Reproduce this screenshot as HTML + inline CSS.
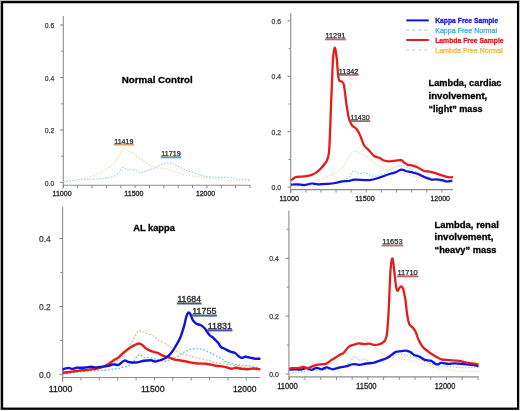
<!DOCTYPE html>
<html><head><meta charset="utf-8"><style>
html,body{margin:0;padding:0;background:#fff;}
body{width:520px;height:411px;overflow:hidden;}
svg{display:block;font-family:"Liberation Sans",sans-serif;will-change:transform;}
</style></head><body>
<svg width="520" height="411" viewBox="0 0 520 411">
<rect width="520" height="411" fill="#fff"/>
<path d="M63.3,16 V188.3" stroke="#8c8c8c" stroke-width="1.1" fill="none"/>
<path d="M63.3,185.2 H250.3" stroke="#8c8c8c" stroke-width="1.1" fill="none"/>
<path d="M60.099999999999994,25 H63.3" stroke="#8c8c8c" stroke-width="1.1"/>
<path d="M60.099999999999994,77.5 H63.3" stroke="#8c8c8c" stroke-width="1.1"/>
<path d="M60.099999999999994,130 H63.3" stroke="#8c8c8c" stroke-width="1.1"/>
<path d="M60.099999999999994,182.5 H63.3" stroke="#8c8c8c" stroke-width="1.1"/>
<path d="M61.099999999999994,51.25 H63.3" stroke="#8c8c8c" stroke-width="1"/>
<path d="M61.099999999999994,103.75 H63.3" stroke="#8c8c8c" stroke-width="1"/>
<path d="M61.099999999999994,156.25 H63.3" stroke="#8c8c8c" stroke-width="1"/>
<path d="M63.3,185.2 V188.2" stroke="#8c8c8c" stroke-width="1"/>
<path d="M77.66,185.2 V188.2" stroke="#8c8c8c" stroke-width="1"/>
<path d="M92.02,185.2 V188.2" stroke="#8c8c8c" stroke-width="1"/>
<path d="M106.38,185.2 V188.2" stroke="#8c8c8c" stroke-width="1"/>
<path d="M120.74,185.2 V188.2" stroke="#8c8c8c" stroke-width="1"/>
<path d="M135.1,185.2 V188.2" stroke="#8c8c8c" stroke-width="1"/>
<path d="M149.45999999999998,185.2 V188.2" stroke="#8c8c8c" stroke-width="1"/>
<path d="M163.82,185.2 V188.2" stroke="#8c8c8c" stroke-width="1"/>
<path d="M178.18,185.2 V188.2" stroke="#8c8c8c" stroke-width="1"/>
<path d="M192.54000000000002,185.2 V188.2" stroke="#8c8c8c" stroke-width="1"/>
<path d="M206.89999999999998,185.2 V188.2" stroke="#8c8c8c" stroke-width="1"/>
<path d="M221.26,185.2 V188.2" stroke="#8c8c8c" stroke-width="1"/>
<path d="M235.62,185.2 V188.2" stroke="#8c8c8c" stroke-width="1"/>
<path d="M249.98000000000002,185.2 V188.2" stroke="#8c8c8c" stroke-width="1"/>
<text x="54.3" y="28.08" text-anchor="end" font-size="8.0" fill="#3a3a3a" stroke="#3a3a3a" stroke-width="0.25" textLength="9.5" lengthAdjust="spacingAndGlyphs">0.6</text>
<text x="54.3" y="80.58" text-anchor="end" font-size="8.0" fill="#3a3a3a" stroke="#3a3a3a" stroke-width="0.25" textLength="9.5" lengthAdjust="spacingAndGlyphs">0.4</text>
<text x="54.3" y="133.08" text-anchor="end" font-size="8.0" fill="#3a3a3a" stroke="#3a3a3a" stroke-width="0.25" textLength="9.5" lengthAdjust="spacingAndGlyphs">0.2</text>
<text x="54.3" y="185.58" text-anchor="end" font-size="8.0" fill="#3a3a3a" stroke="#3a3a3a" stroke-width="0.25" textLength="9.5" lengthAdjust="spacingAndGlyphs">0.0</text>
<text x="52.50" y="196.0" font-size="7.8" fill="#202020" stroke="#202020" stroke-width="0.3" textLength="19.2" lengthAdjust="spacingAndGlyphs">11000</text>
<text x="124.30" y="196.0" font-size="7.8" fill="#202020" stroke="#202020" stroke-width="0.3" textLength="19.2" lengthAdjust="spacingAndGlyphs">11500</text>
<text x="195.90" y="196.0" font-size="7.8" fill="#202020" stroke="#202020" stroke-width="0.3" textLength="19.2" lengthAdjust="spacingAndGlyphs">12000</text>
<path d="M63.30,181.80 C65.32,181.55 72.12,180.85 75.40,180.30 C78.68,179.75 80.43,179.12 83.00,178.50 C85.57,177.88 87.97,177.52 90.80,176.60 C93.63,175.68 97.43,174.23 100.00,173.00 C102.57,171.77 104.02,170.60 106.20,169.20 C108.38,167.80 111.05,166.65 113.10,164.60 C115.15,162.55 116.83,159.47 118.50,156.90 C120.17,154.33 121.57,150.22 123.10,149.20 C124.63,148.18 125.92,150.03 127.70,150.80 C129.48,151.57 132.38,152.90 133.80,153.80 C135.22,154.70 134.78,155.17 136.20,156.20 C137.62,157.23 140.00,158.47 142.30,160.00 C144.60,161.53 147.68,164.12 150.00,165.40 C152.32,166.68 153.63,167.18 156.20,167.70 C158.77,168.22 162.33,167.87 165.40,168.50 C168.47,169.13 171.53,170.48 174.60,171.50 C177.67,172.52 180.47,173.82 183.80,174.60 C187.13,175.38 190.82,175.65 194.60,176.20 C198.38,176.75 202.60,177.43 206.50,177.90 C210.40,178.37 214.15,178.57 218.00,179.00 C221.85,179.43 226.52,180.20 229.60,180.50 C232.68,180.80 233.43,180.70 236.50,180.80 C239.57,180.90 245.75,180.92 248.00,181.10 C250.25,181.28 249.67,181.77 250.00,181.90" stroke="#f5d7aa" stroke-width="1.1" fill="none" stroke-dasharray="1.5 1.5"/>
<path d="M63.30,181.80 C65.25,181.53 70.17,180.63 75.00,180.20 C79.83,179.77 88.13,179.43 92.30,179.20 C96.47,178.97 97.43,179.05 100.00,178.80 C102.57,178.55 105.13,178.22 107.70,177.70 C110.27,177.18 113.48,176.60 115.40,175.70 C117.32,174.80 117.97,173.68 119.20,172.30 C120.43,170.92 121.38,167.78 122.80,167.40 C124.22,167.02 126.12,169.65 127.70,170.00 C129.28,170.35 130.88,169.37 132.30,169.50 C133.72,169.63 134.67,170.28 136.20,170.80 C137.73,171.32 139.72,172.60 141.50,172.60 C143.28,172.60 144.98,171.48 146.90,170.80 C148.82,170.12 150.95,169.40 153.00,168.50 C155.05,167.60 157.13,166.30 159.20,165.40 C161.27,164.50 163.47,163.48 165.40,163.10 C167.33,162.72 169.00,162.72 170.80,163.10 C172.60,163.48 174.03,164.38 176.20,165.40 C178.37,166.42 181.25,168.05 183.80,169.20 C186.35,170.35 188.67,171.32 191.50,172.30 C194.33,173.28 198.68,174.47 200.80,175.10 C202.92,175.73 201.70,175.73 204.20,176.10 C206.70,176.47 211.18,177.07 215.80,177.30 C220.42,177.53 228.45,177.27 231.90,177.50 C235.35,177.73 233.82,178.35 236.50,178.70 C239.18,179.05 245.75,179.30 248.00,179.60 C250.25,179.90 249.67,180.35 250.00,180.50" stroke="#90d4e4" stroke-width="1.1" fill="none" stroke-dasharray="1.5 1.5"/>
<text x="114.30" y="143.60" font-size="7.2" fill="#2a2a2a" stroke="#2a2a2a" stroke-width="0.25" textLength="19.10" lengthAdjust="spacingAndGlyphs">11419</text>
<path d="M113.80,144.20 H133.90" stroke="#505050" stroke-width="0.7"/>
<path d="M113.80,145.00 H133.90" stroke="#f0a062" stroke-width="1.2"/>
<text x="161.30" y="156.30" font-size="7.2" fill="#2a2a2a" stroke="#2a2a2a" stroke-width="0.25" textLength="19.40" lengthAdjust="spacingAndGlyphs">11719</text>
<path d="M160.80,156.90 H181.20" stroke="#505050" stroke-width="0.7"/>
<path d="M160.80,157.70 H181.20" stroke="#3aa6c8" stroke-width="1.2"/>
<text x="121.8" y="82.6" font-size="9.8" font-weight="bold" fill="#000" stroke="#000" stroke-width="0.3" textLength="70.9" lengthAdjust="spacingAndGlyphs">Normal Control</text>
<path d="M290.7,13.2 V193" stroke="#8c8c8c" stroke-width="1.1" fill="none"/>
<path d="M290.7,189.6 H453" stroke="#8c8c8c" stroke-width="1.1" fill="none"/>
<path d="M287.5,20.85 H290.7" stroke="#8c8c8c" stroke-width="1.1"/>
<path d="M287.5,76.3 H290.7" stroke="#8c8c8c" stroke-width="1.1"/>
<path d="M287.5,131.7 H290.7" stroke="#8c8c8c" stroke-width="1.1"/>
<path d="M287.5,187.2 H290.7" stroke="#8c8c8c" stroke-width="1.1"/>
<path d="M288.5,48.6 H290.7" stroke="#8c8c8c" stroke-width="1"/>
<path d="M288.5,104 H290.7" stroke="#8c8c8c" stroke-width="1"/>
<path d="M288.5,159.5 H290.7" stroke="#8c8c8c" stroke-width="1"/>
<path d="M290.7,189.6 V192.6" stroke="#8c8c8c" stroke-width="1"/>
<path d="M305.82,189.6 V192.6" stroke="#8c8c8c" stroke-width="1"/>
<path d="M320.94,189.6 V192.6" stroke="#8c8c8c" stroke-width="1"/>
<path d="M336.06,189.6 V192.6" stroke="#8c8c8c" stroke-width="1"/>
<path d="M351.18,189.6 V192.6" stroke="#8c8c8c" stroke-width="1"/>
<path d="M366.29999999999995,189.6 V192.6" stroke="#8c8c8c" stroke-width="1"/>
<path d="M381.41999999999996,189.6 V192.6" stroke="#8c8c8c" stroke-width="1"/>
<path d="M396.53999999999996,189.6 V192.6" stroke="#8c8c8c" stroke-width="1"/>
<path d="M411.65999999999997,189.6 V192.6" stroke="#8c8c8c" stroke-width="1"/>
<path d="M426.78,189.6 V192.6" stroke="#8c8c8c" stroke-width="1"/>
<path d="M441.9,189.6 V192.6" stroke="#8c8c8c" stroke-width="1"/>
<text x="281.1" y="23.88" text-anchor="end" font-size="8.0" fill="#3a3a3a" stroke="#3a3a3a" stroke-width="0.25" textLength="9.5" lengthAdjust="spacingAndGlyphs">0.6</text>
<text x="281.1" y="79.28" text-anchor="end" font-size="8.0" fill="#3a3a3a" stroke="#3a3a3a" stroke-width="0.25" textLength="9.5" lengthAdjust="spacingAndGlyphs">0.4</text>
<text x="281.1" y="134.68" text-anchor="end" font-size="8.0" fill="#3a3a3a" stroke="#3a3a3a" stroke-width="0.25" textLength="9.5" lengthAdjust="spacingAndGlyphs">0.2</text>
<text x="281.1" y="190.18" text-anchor="end" font-size="8.0" fill="#3a3a3a" stroke="#3a3a3a" stroke-width="0.25" textLength="9.5" lengthAdjust="spacingAndGlyphs">0.0</text>
<text x="279.45" y="201.0" font-size="8.0" fill="#202020" stroke="#202020" stroke-width="0.3" textLength="19.5" lengthAdjust="spacingAndGlyphs">11000</text>
<text x="355.35" y="201.0" font-size="8.0" fill="#202020" stroke="#202020" stroke-width="0.3" textLength="19.5" lengthAdjust="spacingAndGlyphs">11500</text>
<text x="430.45" y="201.0" font-size="8.0" fill="#202020" stroke="#202020" stroke-width="0.3" textLength="19.5" lengthAdjust="spacingAndGlyphs">12000</text>
<path d="M291.00,185.60 C292.83,185.37 298.28,184.77 302.00,184.20 C305.72,183.63 309.57,183.32 313.30,182.20 C317.03,181.08 320.97,178.95 324.40,177.50 C327.83,176.05 331.00,174.95 333.90,173.50 C336.80,172.05 340.17,170.05 341.80,168.80 C343.43,167.55 342.53,167.88 343.70,166.00 C344.87,164.12 347.08,159.92 348.80,157.50 C350.52,155.08 352.28,152.22 354.00,151.50 C355.72,150.78 357.12,152.48 359.10,153.20 C361.08,153.92 363.63,154.52 365.90,155.80 C368.17,157.08 370.43,159.20 372.70,160.90 C374.97,162.60 377.23,164.58 379.50,166.00 C381.77,167.42 384.27,168.57 386.30,169.40 C388.33,170.23 389.22,170.40 391.70,171.00 C394.18,171.60 397.83,172.22 401.20,173.00 C404.57,173.78 408.32,174.80 411.90,175.70 C415.48,176.60 419.10,177.62 422.70,178.40 C426.30,179.18 429.68,179.73 433.50,180.40 C437.32,181.07 442.35,182.00 445.60,182.40 C448.85,182.80 451.77,182.73 453.00,182.80" stroke="#f5d7aa" stroke-width="1.1" fill="none" stroke-dasharray="1.6 1.5"/>
<path d="M291.00,186.20 C294.17,186.03 304.33,185.58 310.00,185.20 C315.67,184.82 319.67,184.68 325.00,183.90 C330.33,183.12 337.88,181.78 342.00,180.50 C346.12,179.22 347.77,177.82 349.70,176.20 C351.63,174.58 352.03,171.22 353.60,170.80 C355.17,170.38 357.33,173.37 359.10,173.70 C360.87,174.03 361.65,172.38 364.20,172.80 C366.75,173.22 371.28,175.97 374.40,176.20 C377.52,176.43 380.35,175.33 382.90,174.20 C385.45,173.07 388.00,170.50 389.70,169.40 C391.40,168.30 391.63,168.17 393.10,167.60 C394.57,167.03 396.72,166.30 398.50,166.00 C400.28,165.70 402.02,165.42 403.80,165.80 C405.58,166.18 407.17,167.33 409.20,168.30 C411.23,169.27 413.30,170.27 416.00,171.60 C418.70,172.93 422.05,175.07 425.40,176.30 C428.75,177.53 432.73,178.22 436.10,179.00 C439.47,179.78 442.78,180.67 445.60,181.00 C448.42,181.33 451.77,181.00 453.00,181.00" stroke="#90d4e4" stroke-width="1.1" fill="none" stroke-dasharray="1.6 1.5"/>
<path d="M291.00,184.60 C292.08,184.55 295.23,184.22 297.50,184.30 C299.77,184.38 302.23,185.23 304.60,185.10 C306.97,184.97 309.47,183.63 311.70,183.50 C313.93,183.37 315.35,184.25 318.00,184.30 C320.65,184.35 324.68,184.02 327.60,183.80 C330.52,183.58 333.00,183.40 335.50,183.00 C338.00,182.60 340.38,181.73 342.60,181.40 C344.82,181.07 346.77,181.30 348.80,181.00 C350.83,180.70 351.38,179.75 354.80,179.60 C358.22,179.45 365.18,180.43 369.30,180.10 C373.42,179.77 376.38,178.53 379.50,177.60 C382.62,176.67 385.97,175.20 388.00,174.50 C390.03,173.80 390.40,173.77 391.70,173.40 C393.00,173.03 394.22,172.93 395.80,172.30 C397.38,171.67 399.42,169.78 401.20,169.60 C402.98,169.42 404.93,170.82 406.50,171.20 C408.07,171.58 409.25,171.60 410.60,171.90 C411.95,172.20 413.27,172.60 414.60,173.00 C415.93,173.40 416.80,173.57 418.60,174.30 C420.40,175.03 423.15,176.50 425.40,177.40 C427.65,178.30 430.32,179.38 432.10,179.70 C433.88,180.02 434.30,179.18 436.10,179.30 C437.90,179.42 441.10,180.03 442.90,180.40 C444.70,180.77 445.33,181.47 446.90,181.50 C448.47,181.53 451.40,180.75 452.30,180.60" stroke="#1212e0" stroke-width="2.2" fill="none" stroke-linejoin="round"/>
<path d="M291.00,180.30 C291.28,180.10 291.88,179.65 292.70,179.10 C293.52,178.55 294.57,177.40 295.90,177.00 C297.23,176.60 298.98,176.83 300.70,176.70 C302.42,176.57 304.37,176.52 306.20,176.20 C308.03,175.88 309.98,175.43 311.70,174.80 C313.42,174.17 314.92,173.53 316.50,172.40 C318.08,171.27 319.48,169.92 321.20,168.00 C322.92,166.08 325.53,163.28 326.80,160.90 C328.07,158.52 328.32,157.18 328.80,153.70 C329.28,150.22 329.42,145.57 329.70,140.00 C329.98,134.43 330.17,128.85 330.50,120.30 C330.83,111.75 331.28,98.83 331.70,88.70 C332.12,78.57 332.50,66.32 333.00,59.50 C333.50,52.68 334.10,48.22 334.70,47.80 C335.30,47.38 336.08,53.03 336.60,57.00 C337.12,60.97 337.40,67.75 337.80,71.60 C338.20,75.45 338.38,78.47 339.00,80.10 C339.62,81.73 340.68,80.58 341.50,81.40 C342.32,82.22 343.10,81.35 343.90,85.00 C344.70,88.65 345.48,97.82 346.30,103.30 C347.12,108.78 347.98,114.45 348.80,117.90 C349.62,121.35 350.48,122.57 351.20,124.00 C351.92,125.43 352.30,125.75 353.10,126.50 C353.90,127.25 355.10,127.58 356.00,128.50 C356.90,129.42 357.70,130.58 358.50,132.00 C359.30,133.42 359.85,134.75 360.80,137.00 C361.75,139.25 362.78,143.22 364.20,145.50 C365.62,147.78 367.60,148.90 369.30,150.70 C371.00,152.50 372.70,155.12 374.40,156.30 C376.10,157.48 377.93,157.10 379.50,157.80 C381.07,158.50 382.10,159.90 383.80,160.50 C385.50,161.10 387.70,161.38 389.70,161.40 C391.70,161.42 393.88,160.80 395.80,160.60 C397.72,160.40 399.87,159.93 401.20,160.20 C402.53,160.47 402.68,161.42 403.80,162.20 C404.92,162.98 406.55,164.38 407.90,164.90 C409.25,165.42 410.33,164.90 411.90,165.30 C413.47,165.70 415.28,166.35 417.30,167.30 C419.32,168.25 422.20,170.32 424.00,171.00 C425.80,171.68 426.08,171.00 428.10,171.40 C430.12,171.80 433.63,172.68 436.10,173.40 C438.57,174.12 440.65,175.03 442.90,175.70 C445.15,176.37 447.92,177.18 449.60,177.40 C451.28,177.62 452.43,177.07 453.00,177.00" stroke="#e41c1c" stroke-width="2.3" fill="none" stroke-linejoin="round"/>
<text x="325.50" y="38.30" font-size="7.2" fill="#2a2a2a" stroke="#2a2a2a" stroke-width="0.25" textLength="19.80" lengthAdjust="spacingAndGlyphs">11291</text>
<path d="M325.00,38.90 H345.80" stroke="#505050" stroke-width="0.7"/>
<path d="M325.00,39.70 H345.80" stroke="#d8505a" stroke-width="1.2"/>
<text x="338.80" y="73.80" font-size="7.2" fill="#2a2a2a" stroke="#2a2a2a" stroke-width="0.25" textLength="19.40" lengthAdjust="spacingAndGlyphs">11342</text>
<path d="M338.30,74.40 H358.70" stroke="#505050" stroke-width="0.7"/>
<path d="M338.30,75.20 H358.70" stroke="#d8505a" stroke-width="1.2"/>
<text x="350.50" y="120.10" font-size="7.2" fill="#2a2a2a" stroke="#2a2a2a" stroke-width="0.25" textLength="19.20" lengthAdjust="spacingAndGlyphs">11430</text>
<path d="M350.00,120.70 H370.20" stroke="#505050" stroke-width="0.7"/>
<path d="M350.00,121.50 H370.20" stroke="#d8505a" stroke-width="1.2"/>
<path d="M406.3,20.4 H428.8" stroke="#1212e0" stroke-width="2"/>
<path d="M406.3,30.2 H428.8" stroke="#9fd6e2" stroke-width="1.3" stroke-dasharray="3 3"/>
<path d="M406.3,40 H428.8" stroke="#e41c1c" stroke-width="2"/>
<path d="M406.3,49.8 H428.8" stroke="#f4ccaa" stroke-width="1.3" stroke-dasharray="3 3"/>
<text x="435.2" y="23.4" font-size="8" font-weight="bold" fill="#1414d4" stroke="#1414d4" stroke-width="0.3" textLength="62.8" lengthAdjust="spacingAndGlyphs">Kappa Free Sample</text>
<text x="435.2" y="33.2" font-size="8" fill="#2ea8e4" stroke="#2ea8e4" stroke-width="0.25" textLength="61.8" lengthAdjust="spacingAndGlyphs">Kappa Free Normal</text>
<text x="435.2" y="43" font-size="8" font-weight="bold" fill="#e41414" stroke="#e41414" stroke-width="0.3" textLength="68.4" lengthAdjust="spacingAndGlyphs">Lambda Free Sample</text>
<text x="435.2" y="52.8" font-size="8" fill="#f2b230" stroke="#f2b230" stroke-width="0.25" textLength="67.4" lengthAdjust="spacingAndGlyphs">Lambda Free Normal</text>
<text font-size="9.2" font-weight="bold" fill="#000" stroke="#000" stroke-width="0.3"><tspan x="428.5" y="85.9" textLength="73" lengthAdjust="spacingAndGlyphs">Lambda, cardiac</tspan><tspan x="428.5" y="98.8" textLength="58.8" lengthAdjust="spacingAndGlyphs">involvement,</tspan><tspan x="428.5" y="111.5" textLength="54" lengthAdjust="spacingAndGlyphs">“light” mass</tspan></text>
<path d="M62.6,206.7 V381.7" stroke="#8c8c8c" stroke-width="1.1" fill="none"/>
<path d="M62.6,377.5 H260.2" stroke="#8c8c8c" stroke-width="1.1" fill="none"/>
<path d="M59.4,238.5 H62.6" stroke="#8c8c8c" stroke-width="1.1"/>
<path d="M59.4,306.5 H62.6" stroke="#8c8c8c" stroke-width="1.1"/>
<path d="M59.4,374.6 H62.6" stroke="#8c8c8c" stroke-width="1.1"/>
<path d="M60.4,272.5 H62.6" stroke="#8c8c8c" stroke-width="1"/>
<path d="M60.4,340.5 H62.6" stroke="#8c8c8c" stroke-width="1"/>
<path d="M62.6,377.5 V380.5" stroke="#8c8c8c" stroke-width="1"/>
<path d="M80.97,377.5 V380.5" stroke="#8c8c8c" stroke-width="1"/>
<path d="M99.34,377.5 V380.5" stroke="#8c8c8c" stroke-width="1"/>
<path d="M117.71000000000001,377.5 V380.5" stroke="#8c8c8c" stroke-width="1"/>
<path d="M136.08,377.5 V380.5" stroke="#8c8c8c" stroke-width="1"/>
<path d="M154.45000000000002,377.5 V380.5" stroke="#8c8c8c" stroke-width="1"/>
<path d="M172.82,377.5 V380.5" stroke="#8c8c8c" stroke-width="1"/>
<path d="M191.19,377.5 V380.5" stroke="#8c8c8c" stroke-width="1"/>
<path d="M209.56,377.5 V380.5" stroke="#8c8c8c" stroke-width="1"/>
<path d="M227.93,377.5 V380.5" stroke="#8c8c8c" stroke-width="1"/>
<path d="M246.3,377.5 V380.5" stroke="#8c8c8c" stroke-width="1"/>
<text x="50.8" y="242.04" text-anchor="end" font-size="9.0" fill="#3a3a3a" stroke="#3a3a3a" stroke-width="0.25" textLength="11.8" lengthAdjust="spacingAndGlyphs">0.4</text>
<text x="50.8" y="310.04" text-anchor="end" font-size="9.0" fill="#3a3a3a" stroke="#3a3a3a" stroke-width="0.25" textLength="11.8" lengthAdjust="spacingAndGlyphs">0.2</text>
<text x="50.8" y="378.14" text-anchor="end" font-size="9.0" fill="#3a3a3a" stroke="#3a3a3a" stroke-width="0.25" textLength="11.8" lengthAdjust="spacingAndGlyphs">0.0</text>
<text x="48.70" y="391.7" font-size="9.2" fill="#202020" stroke="#202020" stroke-width="0.3" textLength="23.6" lengthAdjust="spacingAndGlyphs">11000</text>
<text x="140.90" y="391.7" font-size="9.2" fill="#202020" stroke="#202020" stroke-width="0.3" textLength="23.6" lengthAdjust="spacingAndGlyphs">11500</text>
<text x="232.90" y="391.7" font-size="9.2" fill="#202020" stroke="#202020" stroke-width="0.3" textLength="23.6" lengthAdjust="spacingAndGlyphs">12000</text>
<path d="M62.60,373.50 C65.50,373.17 73.77,372.33 80.00,371.50 C86.23,370.67 94.17,370.08 100.00,368.50 C105.83,366.92 111.00,364.42 115.00,362.00 C119.00,359.58 121.57,356.57 124.00,354.00 C126.43,351.43 127.97,349.10 129.60,346.60 C131.23,344.10 132.52,341.42 133.80,339.00 C135.08,336.58 136.30,333.47 137.30,332.10 C138.30,330.73 138.38,330.65 139.80,330.80 C141.22,330.95 143.67,332.22 145.80,333.00 C147.93,333.78 150.33,334.22 152.60,335.50 C154.87,336.78 157.13,339.27 159.40,340.70 C161.67,342.13 163.93,342.68 166.20,344.10 C168.47,345.52 170.85,347.73 173.00,349.20 C175.15,350.67 176.57,351.83 179.10,352.90 C181.63,353.97 185.15,354.75 188.20,355.60 C191.25,356.45 194.35,357.23 197.40,358.00 C200.45,358.77 203.47,359.43 206.50,360.20 C209.53,360.97 211.68,361.85 215.60,362.60 C219.52,363.35 225.10,363.88 230.00,364.70 C234.90,365.52 240.00,366.82 245.00,367.50 C250.00,368.18 257.50,368.58 260.00,368.80" stroke="#f2bd80" stroke-width="1.3" fill="none" stroke-dasharray="1.8 1.7"/>
<path d="M62.60,374.70 C64.60,374.33 70.17,373.12 74.60,372.50 C79.03,371.88 84.33,371.37 89.20,371.00 C94.07,370.63 99.43,370.65 103.80,370.30 C108.17,369.95 112.25,369.38 115.40,368.90 C118.55,368.42 120.20,368.08 122.70,367.40 C125.20,366.72 128.27,366.28 130.40,364.80 C132.53,363.32 134.02,360.20 135.50,358.50 C136.98,356.80 137.87,354.78 139.30,354.60 C140.73,354.42 142.17,356.88 144.10,357.40 C146.03,357.92 148.63,357.37 150.90,357.70 C153.17,358.03 155.43,358.83 157.70,359.40 C159.97,359.97 162.23,361.10 164.50,361.10 C166.77,361.10 169.17,360.17 171.30,359.40 C173.43,358.63 175.08,357.73 177.30,356.50 C179.52,355.27 182.17,353.27 184.60,352.00 C187.03,350.73 189.32,349.42 191.90,348.90 C194.48,348.38 197.67,348.53 200.10,348.90 C202.53,349.27 204.22,350.13 206.50,351.10 C208.78,352.07 211.37,353.48 213.80,354.70 C216.23,355.92 219.08,357.23 221.10,358.40 C223.12,359.57 223.27,360.63 225.90,361.70 C228.53,362.77 233.25,364.10 236.90,364.80 C240.55,365.50 244.15,365.42 247.80,365.90 C251.45,366.38 256.97,367.40 258.80,367.70" stroke="#62c8e2" stroke-width="1.3" fill="none" stroke-dasharray="1.8 1.7"/>
<path d="M62.60,372.80 C63.38,372.70 65.30,372.45 67.30,372.20 C69.30,371.95 72.17,371.62 74.60,371.30 C77.03,370.98 79.47,370.58 81.90,370.30 C84.33,370.02 86.77,369.88 89.20,369.60 C91.63,369.32 94.32,369.03 96.50,368.60 C98.68,368.17 100.37,367.73 102.30,367.00 C104.23,366.27 106.15,365.35 108.10,364.20 C110.05,363.05 112.30,361.20 114.00,360.10 C115.70,359.00 116.85,358.73 118.30,357.60 C119.75,356.47 121.23,354.58 122.70,353.30 C124.17,352.02 125.82,350.87 127.10,349.90 C128.38,348.93 129.00,348.38 130.40,347.50 C131.80,346.62 133.93,345.25 135.50,344.60 C137.07,343.95 138.52,343.40 139.80,343.60 C141.08,343.80 142.07,344.93 143.20,345.80 C144.33,346.67 145.03,347.82 146.60,348.80 C148.17,349.78 150.75,351.02 152.60,351.70 C154.45,352.38 156.00,352.25 157.70,352.90 C159.40,353.55 160.82,354.80 162.80,355.60 C164.78,356.40 167.62,357.02 169.60,357.70 C171.58,358.38 173.12,359.28 174.70,359.70 C176.28,360.12 176.85,359.82 179.10,360.20 C181.35,360.58 185.15,361.45 188.20,362.00 C191.25,362.55 194.35,363.20 197.40,363.50 C200.45,363.80 203.47,363.43 206.50,363.80 C209.53,364.17 213.27,365.32 215.60,365.70 C217.93,366.08 218.78,365.85 220.50,366.10 C222.22,366.35 224.08,366.75 225.90,367.20 C227.72,367.65 229.75,368.72 231.40,368.80 C233.05,368.88 234.15,367.70 235.80,367.70 C237.45,367.70 239.30,368.55 241.30,368.80 C243.30,369.05 245.80,369.25 247.80,369.20 C249.80,369.15 251.20,368.47 253.30,368.50 C255.40,368.53 259.22,369.25 260.40,369.40" stroke="#e41c1c" stroke-width="2.4" fill="none" stroke-linejoin="round"/>
<path d="M62.60,369.60 C63.13,369.40 64.65,368.65 65.80,368.40 C66.95,368.15 68.40,368.02 69.50,368.10 C70.60,368.18 71.18,368.97 72.40,368.90 C73.62,368.83 75.22,367.88 76.80,367.70 C78.38,367.52 80.33,367.85 81.90,367.80 C83.47,367.75 84.62,367.58 86.20,367.40 C87.78,367.22 89.82,366.70 91.40,366.70 C92.98,366.70 94.25,367.35 95.70,367.40 C97.15,367.45 98.52,367.17 100.10,367.00 C101.68,366.83 103.87,366.58 105.20,366.40 C106.53,366.22 106.88,366.22 108.10,365.90 C109.32,365.58 111.33,364.73 112.50,364.50 C113.67,364.27 114.10,364.45 115.10,364.50 C116.10,364.55 116.93,365.45 118.50,364.80 C120.07,364.15 122.80,361.07 124.50,360.60 C126.20,360.13 126.87,361.68 128.70,362.00 C130.53,362.32 132.93,362.70 135.50,362.50 C138.07,362.30 141.53,361.18 144.10,360.80 C146.67,360.42 148.92,360.10 150.90,360.20 C152.88,360.30 153.73,361.68 156.00,361.40 C158.27,361.12 162.37,359.47 164.50,358.50 C166.63,357.53 167.38,356.93 168.80,355.60 C170.22,354.27 171.73,352.28 173.00,350.50 C174.27,348.72 175.23,346.93 176.40,344.90 C177.57,342.87 178.78,341.22 180.00,338.30 C181.22,335.38 182.63,331.05 183.70,327.40 C184.77,323.75 185.65,318.83 186.40,316.40 C187.15,313.97 187.58,313.25 188.20,312.80 C188.82,312.35 189.33,312.48 190.10,313.70 C190.87,314.92 191.75,318.43 192.80,320.10 C193.85,321.77 195.03,322.85 196.40,323.70 C197.77,324.55 199.62,324.43 201.00,325.20 C202.38,325.97 203.33,326.72 204.70,328.30 C206.07,329.88 207.68,333.03 209.20,334.70 C210.72,336.37 212.28,336.90 213.80,338.30 C215.32,339.70 217.10,341.65 218.30,343.10 C219.50,344.55 219.92,346.05 221.00,347.00 C222.08,347.95 223.25,348.02 224.80,348.80 C226.35,349.58 228.65,351.03 230.30,351.70 C231.95,352.37 233.42,352.13 234.70,352.80 C235.98,353.47 236.90,354.85 238.00,355.70 C239.10,356.55 240.03,357.72 241.30,357.90 C242.57,358.08 244.15,356.85 245.60,356.80 C247.05,356.75 248.35,357.28 250.00,357.60 C251.65,357.92 253.77,358.52 255.50,358.70 C257.23,358.88 259.58,358.70 260.40,358.70" stroke="#1212e0" stroke-width="2.4" fill="none" stroke-linejoin="round"/>
<text x="177.40" y="302.20" font-size="8.6" fill="#2a2a2a" stroke="#2a2a2a" stroke-width="0.35" textLength="23.60" lengthAdjust="spacingAndGlyphs">11684</text>
<path d="M176.90,302.80 H201.50" stroke="#505050" stroke-width="0.7"/>
<path d="M176.90,303.75 H201.50" stroke="#4050c4" stroke-width="1.5"/>
<text x="192.20" y="314.30" font-size="8.6" fill="#2a2a2a" stroke="#2a2a2a" stroke-width="0.35" textLength="24.20" lengthAdjust="spacingAndGlyphs">11755</text>
<path d="M191.70,314.90 H216.90" stroke="#505050" stroke-width="0.7"/>
<path d="M191.70,315.85 H216.90" stroke="#4050c4" stroke-width="1.5"/>
<text x="207.70" y="329.10" font-size="8.6" fill="#2a2a2a" stroke="#2a2a2a" stroke-width="0.35" textLength="24.20" lengthAdjust="spacingAndGlyphs">11831</text>
<path d="M207.20,329.70 H232.40" stroke="#505050" stroke-width="0.7"/>
<path d="M207.20,330.65 H232.40" stroke="#4050c4" stroke-width="1.5"/>
<text x="133.2" y="231.2" font-size="9" font-weight="bold" fill="#000" stroke="#000" stroke-width="0.3" textLength="41.7" lengthAdjust="spacingAndGlyphs">AL kappa</text>
<path d="M288.9,210.5 V380.4" stroke="#8c8c8c" stroke-width="1.1" fill="none"/>
<path d="M288.9,376.9 H478.6" stroke="#8c8c8c" stroke-width="1.1" fill="none"/>
<path d="M285.7,258.3 H288.9" stroke="#8c8c8c" stroke-width="1.1"/>
<path d="M285.7,316.1 H288.9" stroke="#8c8c8c" stroke-width="1.1"/>
<path d="M285.7,374 H288.9" stroke="#8c8c8c" stroke-width="1.1"/>
<path d="M286.7,229.4 H288.9" stroke="#8c8c8c" stroke-width="1"/>
<path d="M286.7,287.2 H288.9" stroke="#8c8c8c" stroke-width="1"/>
<path d="M286.7,345 H288.9" stroke="#8c8c8c" stroke-width="1"/>
<path d="M289.3,376.9 V379.9" stroke="#8c8c8c" stroke-width="1"/>
<path d="M305.02000000000004,376.9 V379.9" stroke="#8c8c8c" stroke-width="1"/>
<path d="M320.74,376.9 V379.9" stroke="#8c8c8c" stroke-width="1"/>
<path d="M336.46000000000004,376.9 V379.9" stroke="#8c8c8c" stroke-width="1"/>
<path d="M352.18,376.9 V379.9" stroke="#8c8c8c" stroke-width="1"/>
<path d="M367.90000000000003,376.9 V379.9" stroke="#8c8c8c" stroke-width="1"/>
<path d="M383.62,376.9 V379.9" stroke="#8c8c8c" stroke-width="1"/>
<path d="M399.34000000000003,376.9 V379.9" stroke="#8c8c8c" stroke-width="1"/>
<path d="M415.06,376.9 V379.9" stroke="#8c8c8c" stroke-width="1"/>
<path d="M430.78000000000003,376.9 V379.9" stroke="#8c8c8c" stroke-width="1"/>
<path d="M446.5,376.9 V379.9" stroke="#8c8c8c" stroke-width="1"/>
<path d="M462.22,376.9 V379.9" stroke="#8c8c8c" stroke-width="1"/>
<path d="M477.94000000000005,376.9 V379.9" stroke="#8c8c8c" stroke-width="1"/>
<text x="278.8" y="261.28" text-anchor="end" font-size="8.0" fill="#3a3a3a" stroke="#3a3a3a" stroke-width="0.25" textLength="9.6" lengthAdjust="spacingAndGlyphs">0.4</text>
<text x="278.8" y="319.08" text-anchor="end" font-size="8.0" fill="#3a3a3a" stroke="#3a3a3a" stroke-width="0.25" textLength="9.6" lengthAdjust="spacingAndGlyphs">0.2</text>
<text x="278.8" y="377.18" text-anchor="end" font-size="8.0" fill="#3a3a3a" stroke="#3a3a3a" stroke-width="0.25" textLength="9.6" lengthAdjust="spacingAndGlyphs">0.0</text>
<text x="277.20" y="388.6" font-size="8.3" fill="#202020" stroke="#202020" stroke-width="0.3" textLength="20.6" lengthAdjust="spacingAndGlyphs">11000</text>
<text x="356.00" y="388.6" font-size="8.3" fill="#202020" stroke="#202020" stroke-width="0.3" textLength="20.6" lengthAdjust="spacingAndGlyphs">11500</text>
<text x="434.70" y="388.6" font-size="8.3" fill="#202020" stroke="#202020" stroke-width="0.3" textLength="20.6" lengthAdjust="spacingAndGlyphs">12000</text>
<path d="M289.30,373.20 C291.18,372.97 296.28,372.40 300.60,371.80 C304.92,371.20 310.83,370.70 315.20,369.60 C319.57,368.50 323.17,366.78 326.80,365.20 C330.43,363.62 333.83,362.28 337.00,360.10 C340.17,357.92 343.57,354.98 345.80,352.10 C348.03,349.22 348.87,345.37 350.40,342.80 C351.93,340.23 353.22,337.38 355.00,336.70 C356.78,336.02 358.97,337.80 361.10,338.70 C363.23,339.60 365.57,340.75 367.80,342.10 C370.03,343.45 372.27,345.02 374.50,346.80 C376.73,348.58 378.97,351.23 381.20,352.80 C383.43,354.37 385.45,355.30 387.90,356.20 C390.35,357.10 393.88,357.85 395.90,358.20 C397.92,358.55 397.25,357.77 400.00,358.30 C402.75,358.83 408.27,360.37 412.40,361.40 C416.53,362.43 420.67,363.47 424.80,364.50 C428.93,365.53 433.05,366.73 437.20,367.60 C441.35,368.47 445.90,369.12 449.70,369.70 C453.50,370.28 455.20,370.80 460.00,371.10 C464.80,371.40 475.42,371.43 478.50,371.50" stroke="#f5d7aa" stroke-width="1.1" fill="none" stroke-dasharray="1.5 1.5"/>
<path d="M289.30,374.00 C291.18,373.63 296.28,372.42 300.60,371.80 C304.92,371.18 310.33,370.72 315.20,370.30 C320.07,369.88 324.95,369.85 329.80,369.30 C334.65,368.75 341.43,367.80 344.30,367.00 C347.17,366.20 345.98,365.42 347.00,364.50 C348.02,363.58 349.17,362.78 350.40,361.50 C351.63,360.22 352.85,357.02 354.40,356.80 C355.95,356.58 357.92,359.75 359.70,360.20 C361.48,360.65 362.87,359.10 365.10,359.50 C367.33,359.90 370.62,362.27 373.10,362.60 C375.58,362.93 377.52,362.18 380.00,361.50 C382.48,360.82 385.50,359.58 388.00,358.50 C390.50,357.42 393.00,355.73 395.00,355.00 C397.00,354.27 397.10,353.83 400.00,354.10 C402.90,354.37 408.27,355.38 412.40,356.60 C416.53,357.82 420.67,359.92 424.80,361.40 C428.93,362.88 433.05,364.63 437.20,365.50 C441.35,366.37 445.90,366.25 449.70,366.60 C453.50,366.95 455.20,367.47 460.00,367.60 C464.80,367.73 475.42,367.43 478.50,367.40" stroke="#90d4e4" stroke-width="1.1" fill="none" stroke-dasharray="1.5 1.5"/>
<path d="M289.30,369.60 C290.20,369.55 292.82,369.30 294.70,369.30 C296.58,369.30 298.65,369.80 300.60,369.60 C302.55,369.40 304.58,368.05 306.40,368.10 C308.22,368.15 309.80,369.95 311.50,369.90 C313.20,369.85 314.90,367.90 316.60,367.80 C318.30,367.70 320.00,369.37 321.70,369.30 C323.40,369.23 324.97,367.40 326.80,367.40 C328.63,367.40 330.50,369.30 332.70,369.30 C334.90,369.30 337.82,367.88 340.00,367.40 C342.18,366.92 343.87,366.88 345.80,366.40 C347.73,365.92 350.17,364.87 351.60,364.50 C353.03,364.13 353.05,364.13 354.40,364.20 C355.75,364.27 357.70,365.02 359.70,364.90 C361.70,364.78 364.17,363.83 366.40,363.50 C368.63,363.17 370.87,363.38 373.10,362.90 C375.33,362.42 377.57,361.38 379.80,360.60 C382.03,359.82 384.48,359.20 386.50,358.20 C388.52,357.20 390.33,355.65 391.90,354.60 C393.47,353.55 394.35,352.47 395.90,351.90 C397.45,351.33 399.48,351.42 401.20,351.20 C402.92,350.98 404.68,350.45 406.20,350.60 C407.72,350.75 408.92,351.33 410.30,352.10 C411.68,352.87 413.12,354.52 414.50,355.20 C415.88,355.88 416.88,355.42 418.60,356.20 C420.32,356.98 422.78,359.15 424.80,359.90 C426.82,360.65 428.72,359.95 430.70,360.70 C432.68,361.45 434.92,364.05 436.70,364.40 C438.48,364.75 439.50,362.90 441.40,362.80 C443.30,362.70 445.87,363.70 448.10,363.80 C450.33,363.90 452.12,363.35 454.80,363.40 C457.48,363.45 461.08,363.80 464.20,364.10 C467.32,364.40 471.12,364.87 473.50,365.20 C475.88,365.53 477.67,365.95 478.50,366.10" stroke="#1212e0" stroke-width="2.3" fill="none" stroke-linejoin="round"/>
<path d="M289.30,368.90 C289.72,368.77 290.40,368.23 291.80,368.10 C293.20,367.97 295.75,368.28 297.70,368.10 C299.65,367.92 301.80,367.00 303.50,367.00 C305.20,367.00 306.43,368.20 307.90,368.10 C309.37,368.00 310.85,366.93 312.30,366.40 C313.75,365.87 314.90,365.27 316.60,364.90 C318.30,364.53 320.80,364.43 322.50,364.20 C324.20,363.97 325.35,364.18 326.80,363.50 C328.25,362.82 329.73,361.08 331.20,360.10 C332.67,359.12 334.13,358.50 335.60,357.60 C337.07,356.70 338.67,355.50 340.00,354.70 C341.33,353.90 342.52,353.72 343.60,352.80 C344.68,351.88 345.53,350.28 346.50,349.20 C347.47,348.12 348.07,347.08 349.40,346.30 C350.73,345.52 353.00,344.98 354.50,344.50 C356.00,344.02 356.75,343.47 358.40,343.40 C360.05,343.33 362.62,344.05 364.40,344.10 C366.18,344.15 367.53,343.58 369.10,343.70 C370.67,343.82 372.23,344.67 373.80,344.80 C375.37,344.93 377.05,344.83 378.50,344.50 C379.95,344.17 381.38,343.53 382.50,342.80 C383.62,342.07 384.48,341.45 385.20,340.10 C385.92,338.75 386.40,336.93 386.80,334.70 C387.20,332.47 387.30,330.48 387.60,326.70 C387.90,322.92 388.25,318.70 388.60,312.00 C388.95,305.30 389.35,293.80 389.70,286.50 C390.05,279.20 390.28,272.87 390.70,268.20 C391.12,263.53 391.75,259.30 392.20,258.50 C392.65,257.70 393.00,260.77 393.40,263.40 C393.80,266.03 394.15,270.45 394.60,274.30 C395.05,278.15 395.60,283.75 396.10,286.50 C396.60,289.25 397.03,290.60 397.60,290.80 C398.17,291.00 398.88,288.45 399.50,287.70 C400.12,286.95 400.70,286.10 401.30,286.30 C401.90,286.50 402.60,287.65 403.10,288.90 C403.60,290.15 403.90,291.90 404.30,293.80 C404.70,295.70 405.02,296.80 405.50,300.30 C405.98,303.80 406.57,310.83 407.20,314.80 C407.83,318.77 408.43,322.03 409.30,324.10 C410.17,326.17 411.37,325.98 412.40,327.20 C413.43,328.42 414.47,329.32 415.50,331.40 C416.53,333.48 417.38,337.12 418.60,339.70 C419.82,342.28 421.07,344.83 422.80,346.90 C424.53,348.97 426.93,350.55 429.00,352.10 C431.07,353.65 433.13,354.98 435.20,356.20 C437.27,357.42 439.02,358.75 441.40,359.40 C443.78,360.05 446.82,359.88 449.50,360.10 C452.18,360.32 455.05,360.37 457.50,360.70 C459.95,361.03 461.75,361.65 464.20,362.10 C466.65,362.55 469.82,363.02 472.20,363.40 C474.58,363.78 477.45,364.23 478.50,364.40" stroke="#e41c1c" stroke-width="2.3" fill="none" stroke-linejoin="round"/>
<text x="382.30" y="244.40" font-size="7.4" fill="#2a2a2a" stroke="#2a2a2a" stroke-width="0.25" textLength="20.40" lengthAdjust="spacingAndGlyphs">11653</text>
<path d="M381.80,245.00 H403.20" stroke="#505050" stroke-width="0.7"/>
<path d="M381.80,245.80 H403.20" stroke="#d8505a" stroke-width="1.2"/>
<text x="397.50" y="275.30" font-size="7.4" fill="#2a2a2a" stroke="#2a2a2a" stroke-width="0.25" textLength="20.30" lengthAdjust="spacingAndGlyphs">11710</text>
<path d="M397.00,275.90 H418.30" stroke="#505050" stroke-width="0.7"/>
<path d="M397.00,276.70 H418.30" stroke="#d8505a" stroke-width="1.2"/>
<text font-size="9.2" font-weight="bold" fill="#000" stroke="#000" stroke-width="0.3"><tspan x="434.5" y="228.1" textLength="64.3" lengthAdjust="spacingAndGlyphs">Lambda, renal</tspan><tspan x="434.5" y="240.4" textLength="59" lengthAdjust="spacingAndGlyphs">involvement,</tspan><tspan x="434.5" y="252.7" textLength="62" lengthAdjust="spacingAndGlyphs">“heavy” mass</tspan></text>
<path d="M0,0.5 H520 M0.5,0 V411" stroke="#c8c8c8" stroke-width="1"/>
<rect x="2.0" y="2.1" width="516.1" height="406.6" fill="none" stroke="#000" stroke-width="2.3"/>
</svg>
</body></html>
